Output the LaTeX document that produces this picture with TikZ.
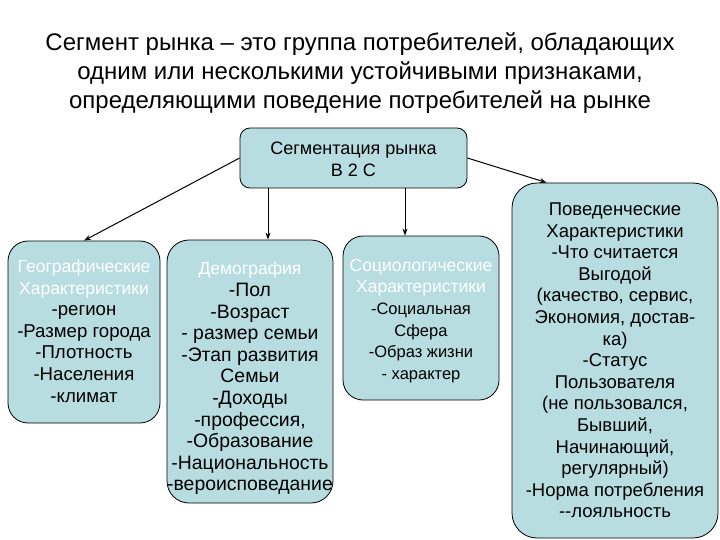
\documentclass[tikz,border=0pt]{standalone}
\usepackage{fontspec}
\setmainfont{Liberation Sans}
\usetikzlibrary{arrows.meta}
\definecolor{boxfill}{RGB}{183,221,225}
\newcommand{\wh}[1]{\textcolor{white}{\fontsize{17.5}{21.5}\selectfont #1}}
\tikzset{
  seg/.style={draw=black, line width=0.8pt, fill=boxfill, inner sep=0pt},
  segtext/.style={align=center, inner sep=0pt},
  arr/.style={draw=black, line width=1pt, -{Stealth[length=7pt,width=5pt]}},
}
\begin{document}
\begin{tikzpicture}[x=1pt,y=-1pt]
\useasboundingbox (0,0) rectangle (720,540);
\node[font=\fontsize{24}{29}\selectfont, align=center] (title) at (360,73)
  {Сегмент рынка – это группа потребителей, обладающих\\
   одним или несколькими устойчивыми признаками,\\
   определяющими поведение потребителей на рынке};
% boxes
\node[seg, rounded corners=10pt, minimum width=227pt, minimum height=60pt] (top) at (353.5,158) {};
\node[seg, rounded corners=20pt, minimum width=152pt, minimum height=182pt] (geo) at (84,332) {};
\node[seg, rounded corners=22pt, minimum width=166pt, minimum height=263pt] (demo) at (250,371.5) {};
\node[seg, rounded corners=20pt, minimum width=156pt, minimum height=164pt] (socio) at (421,318) {};
\node[seg, rounded corners=25pt, minimum width=206pt, minimum height=355pt] (beh) at (615,360.5) {};
% texts
\node[segtext, font=\fontsize{18}{22}\selectfont] (topT) at (353.5,159.5)
  {Сегментация рынка\\B 2 C};
\node[segtext, font=\fontsize{18.6}{21.6}\selectfont] (geoT) at (84,331)
  {\wh{Географические}\\\wh{Характеристики}\\-регион\\-Размер города\\-Плотность\\-Населения\\-климат};
\node[segtext, font=\fontsize{19.4}{21.6}\selectfont] (demoT) at (250,378.5)
  {\wh{Демография}\\-Пол\\-Возраст\\- размер семьи\\-Этап развития\\Семьи\\-Доходы\\-профессия,\\-Образование\\-Национальность\\-вероисповедание};
\node[segtext, font=\fontsize{16.5}{21.6}\selectfont] (socioT) at (421,321)
  {\wh{Социологические}\\\wh{Характеристики}\\-Социальная\\Сфера\\-Образ жизни\\- характер};
\node[segtext, font=\fontsize{18.5}{21.6}\selectfont] (behT) at (615,360.5)
  {Поведенческие\\Характеристики\\-Что считается\\Выгодой\\(качество, сервис,\\Экономия, достав-\\ка)\\-Статус\\Пользователя\\(не пользовался,\\Бывший,\\Начинающий,\\регулярный)\\-Норма потребления\\-{}-лояльность};
% connectors
\coordinate (a2) at (268,0);
\coordinate (a3) at (405,0);
\draw[arr] (top.west) -- (geo.north);
\draw[arr] (a2 |- top.south) -- (a2 |- demo.north);
\draw[arr] (a3 |- top.south) -- (a3 |- socio.north);
\draw[arr] (top.east) -- ([xshift=35pt]beh.north west);
\end{tikzpicture}
\end{document}
